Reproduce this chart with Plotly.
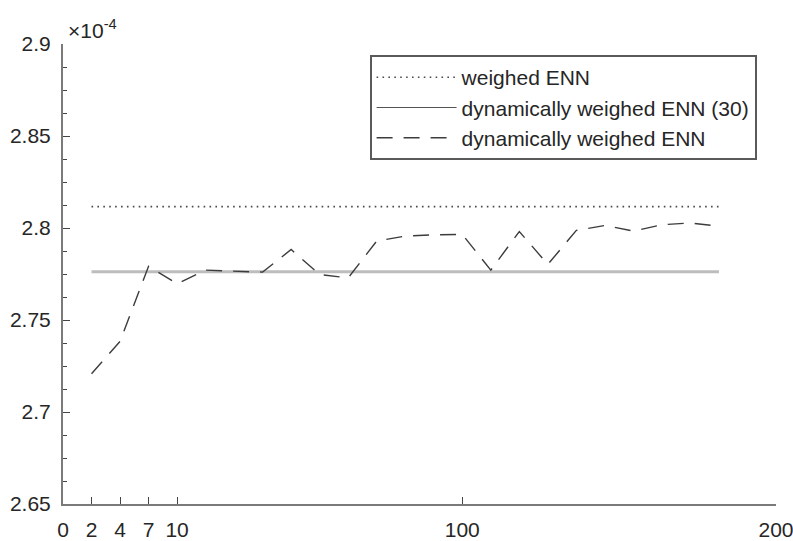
import plotly.graph_objects as go

# ---- data (values in units of 1e-4) ----
x_pos = [1, 2, 3, 4, 5, 6, 7, 8, 9, 10, 11, 12, 13, 14, 15, 16, 17, 18, 19, 20, 21, 22, 23]
dyn_enn = [2.7208, 2.7384, 2.7792, 2.7697, 2.7771, 2.7765, 2.7760, 2.7883, 2.7747, 2.7729,
           2.7929, 2.7956, 2.7963, 2.7965, 2.7771, 2.7981, 2.7802, 2.7987, 2.8014, 2.7983,
           2.8018, 2.8027, 2.8010]
weighed_enn = 2.8116
dyn_enn_30 = 2.7762

x_tickvals = [0, 1, 2, 3, 4, 14, 25]
x_ticktext = ["0", "2", "4", "7", "10", "100", "200"]
y_tickvals = [2.65, 2.7, 2.75, 2.8, 2.85, 2.9]
y_ticktext = ["2.65", "2.7", "2.75", "2.8", "2.85", "2.9"]

names = ["weighed ENN", "dynamically weighed ENN (30)", "dynamically weighed ENN"]

FONT = "Arial, Liberation Sans, Helvetica, sans-serif"
TXT = "#262626"
AX = "#7a7a7a"

fig = go.Figure()

# weighed ENN (dotted)
fig.add_trace(go.Scatter(
    x=[x_pos[0], x_pos[-1]], y=[weighed_enn, weighed_enn], mode="lines",
    name=names[0], line=dict(color="#4a4a4a", width=1.6, dash="1.6px,4.3px"),
))
# dynamically weighed ENN (30) (solid) - plotted line
fig.add_trace(go.Scatter(
    x=[x_pos[0], x_pos[-1]], y=[dyn_enn_30, dyn_enn_30], mode="lines",
    name=names[1], legendgroup="g30", showlegend=False,
    line=dict(color="#bdbdbd", width=3),
))
# legend-only entry for the solid line (drawn thin and dark like the reference key)
fig.add_trace(go.Scatter(
    x=[None], y=[None], mode="lines", name=names[1], legendgroup="g30",
    line=dict(color="#555555", width=1.2),
))
# dynamically weighed ENN (dashed)
fig.add_trace(go.Scatter(
    x=x_pos, y=dyn_enn, mode="lines", name=names[2],
    line=dict(color="#3c3c3c", width=1.4, dash="16px,11px"),
))

fig.update_layout(
    width=793, height=541,
    margin=dict(l=63, r=17, t=44, b=37),
    paper_bgcolor="white", plot_bgcolor="white",
    font=dict(family=FONT, size=21, color=TXT),
    legend=dict(
        x=0.430, y=0.976, xanchor="left", yanchor="top",
        bordercolor="#5a5a5a", borderwidth=2, bgcolor="white",
        font=dict(family=FONT, size=21, color=TXT),
        itemwidth=80, tracegroupgap=0,
    ),
    xaxis=dict(
        range=[0, 25], tickmode="array", tickvals=x_tickvals, ticktext=x_ticktext,
        showgrid=False, zeroline=False, showline=True, linecolor=AX, linewidth=2,
        ticks="inside", ticklen=7, tickcolor="#444", tickwidth=1,
        ticklabelstandoff=6, automargin=False, ticklabeloverflow="allow",
    ),
    yaxis=dict(
        range=[2.65, 2.9], tickmode="array", tickvals=y_tickvals, ticktext=y_ticktext,
        showgrid=False, zeroline=False, showline=True, linecolor=AX, linewidth=2,
        ticks="inside", ticklen=7, tickcolor="#444", tickwidth=1,
        minor=dict(dtick=0.0125, tick0=2.65, ticks="inside", ticklen=3.5,
                   tickcolor="#444", tickwidth=1, showgrid=False),
        ticklabelstandoff=6, automargin=False, ticklabeloverflow="allow",
    ),
    annotations=[dict(
        text="×10<sup>-4</sup>", xref="paper", yref="paper", x=0.004, y=1,
        xanchor="left", yanchor="bottom", showarrow=False, yshift=0,
        font=dict(family=FONT, size=21, color=TXT),
    )],
)

fig.write_html("out.html", config={"displayModeBar": False},
               post_script="document.body.style.margin='0';")
